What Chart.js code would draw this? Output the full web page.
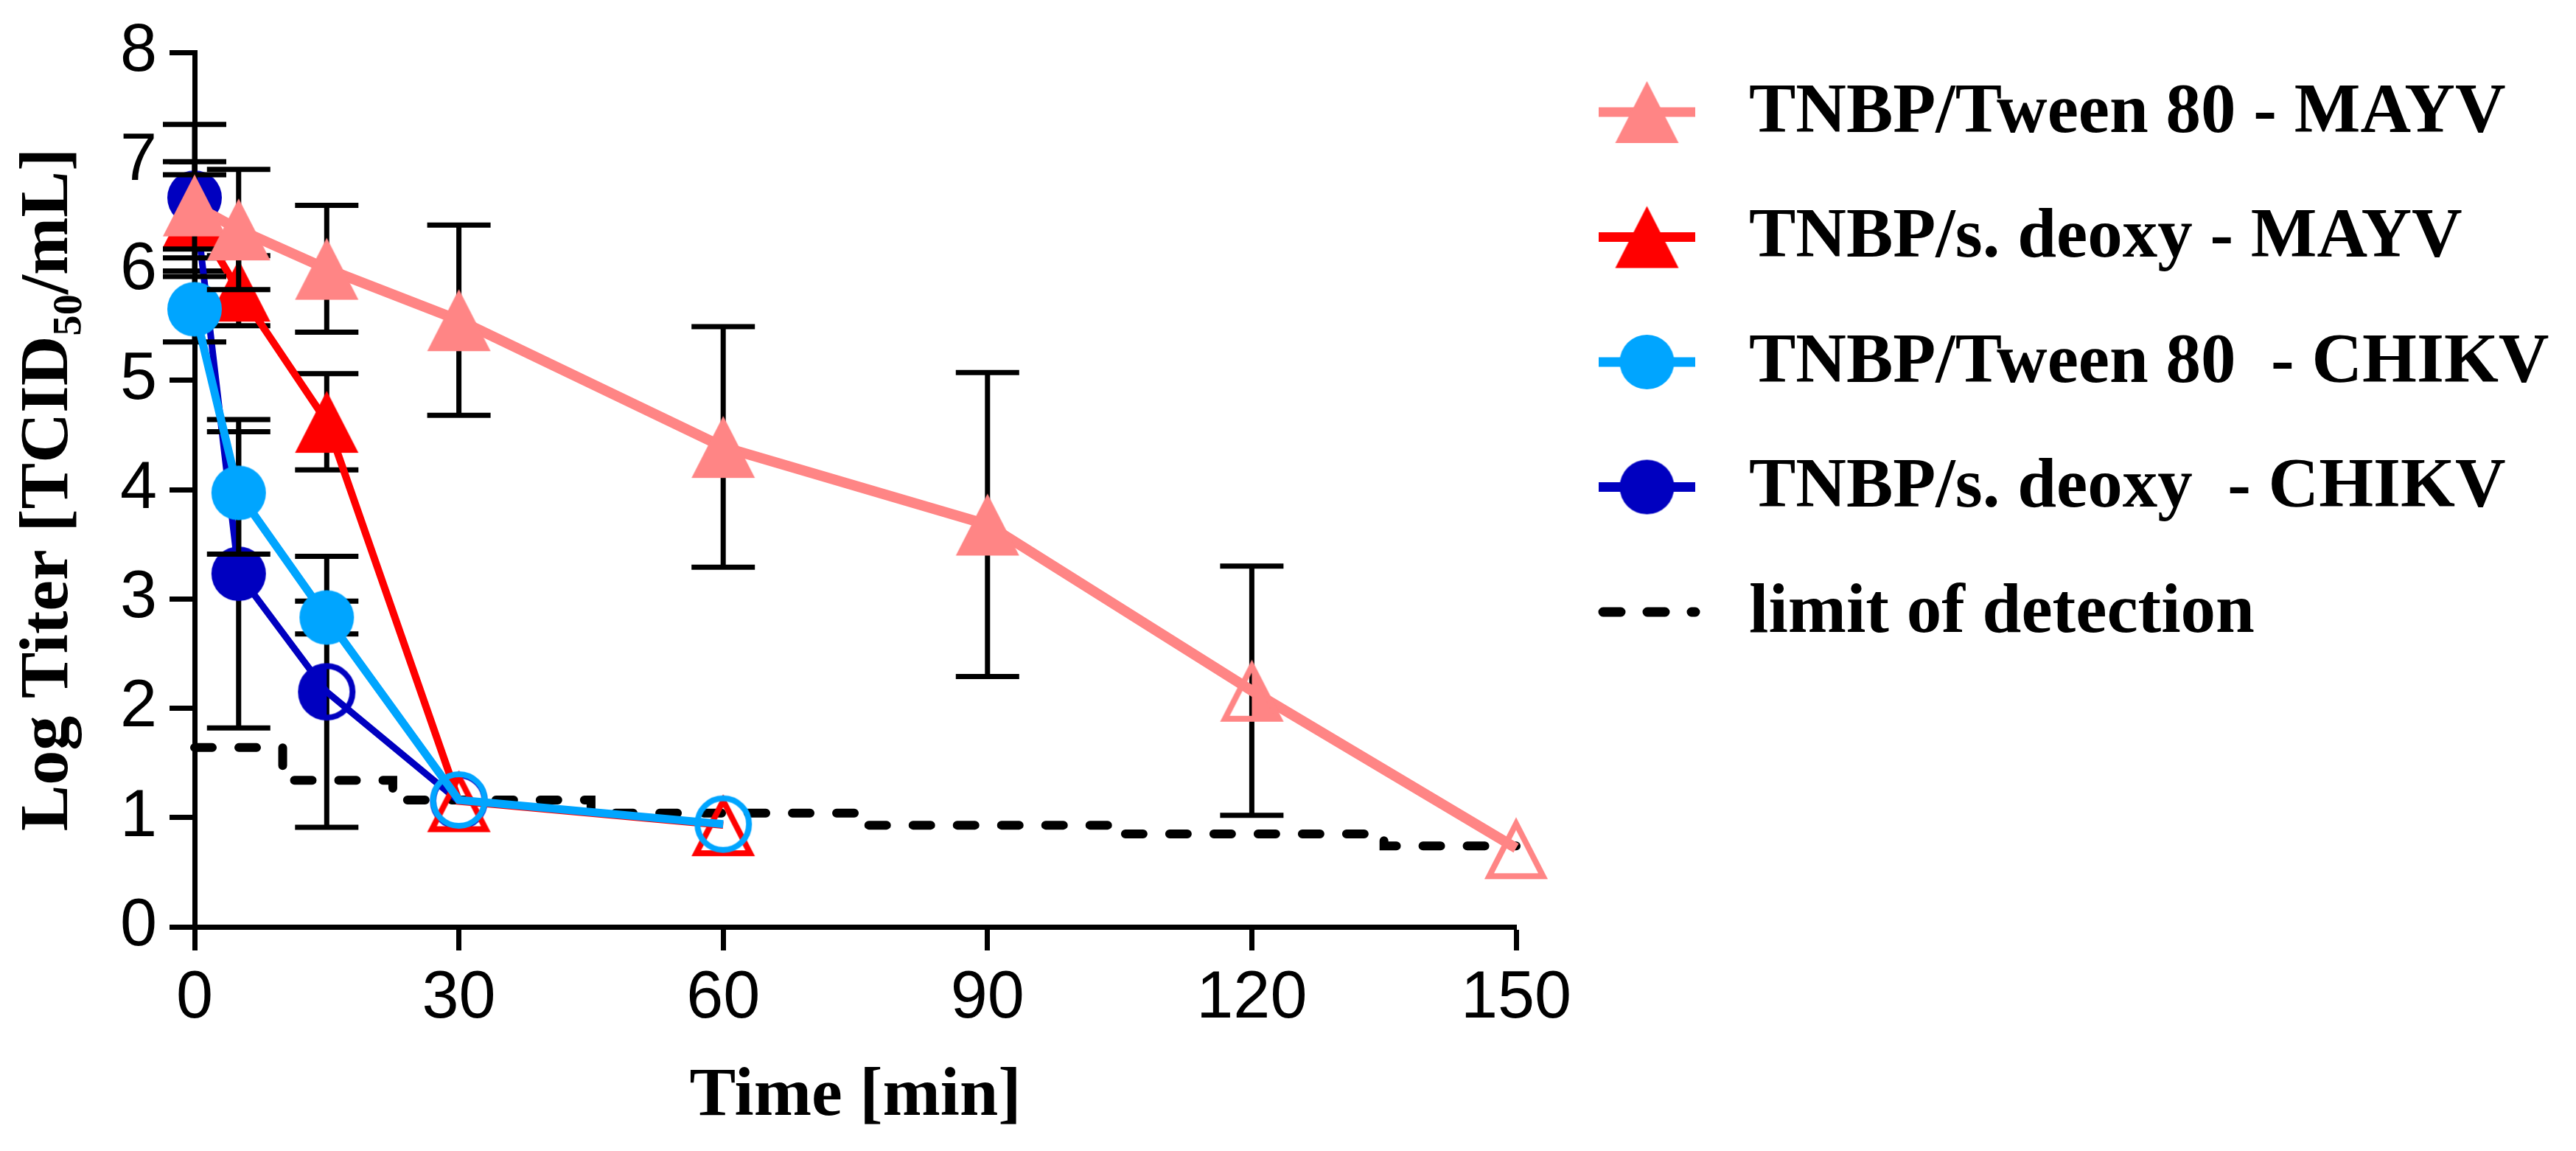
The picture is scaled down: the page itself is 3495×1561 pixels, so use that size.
<!DOCTYPE html>
<html>
<head>
<meta charset="utf-8">
<title>Log titer over time</title>
<script src="https://cdn.jsdelivr.net/npm/chart.js@4.4.1/dist/chart.umd.min.js"></script>
<style>
  html, body { margin: 0; padding: 0; background: #fff; }
  #wrap { width: 3495px; height: 1561px; position: relative; }
</style>
</head>
<body>
<div id="wrap"><canvas id="chart"></canvas></div>
<script>
// time points [min] and axis ticks
const TIMES   = [0, 5, 15, 30, 60, 90, 120, 150];
const X_TICKS = [0, 30, 60, 90, 120, 150];
const Y_TICKS = [0, 1, 2, 3, 4, 5, 6, 7, 8];

const LABELS = [
  "TNBP/Tween 80 - MAYV",
  "TNBP/s. deoxy - MAYV",
  "TNBP/Tween 80  - CHIKV",
  "TNBP/s. deoxy  - CHIKV",
  "limit of detection"
];

// log titer means and SD
const mayvTween     = [6.60, 6.38, 6.02, 5.55, 4.39, 3.68, 2.16, 0.72];
const mayvTweenSD   = [0.40, 0.55, 0.58, 0.87, 1.10, 1.39, 1.14, 0];
const mayvDeoxy     = [6.50, 5.82, 4.62, 1.15, 0.93];
const mayvDeoxySD   = [0.38, 0.32, 0.44, 0, 0];
const chikvTween    = [5.65, 3.97, 2.83, 1.16, 0.94];
const chikvTweenSD  = [0.30, 0.56, 0.15, 0, 0];
const chikvDeoxy    = [6.67, 3.23, 2.15, 1.15];
const chikvDeoxySD  = [0.67, 1.41, 1.24, 0];
const detectLimit   = [1.64, 1.64, 1.34, 1.16, 1.04, 0.93, 0.85, 0.74];

// symbol fill per point: f = filled, h = half, o = open
const mayvTweenSym  = ["f", "f", "f", "f", "f", "f", "h", "o"];
const mayvDeoxySym  = ["f", "f", "f", "o", "o"];
const chikvTweenSym = ["f", "f", "f", "o", "o"];
const chikvDeoxySym = ["f", "f", "h", "o"];

const SALMON = "#ff8585", RED = "#ff0000", SKY = "#00a5ff", NAVY = "#0000c0";

const markerCache = {};
function triMarker(color, kind) {
  const c = document.createElement("canvas");
  c.width = 104; c.height = 104;
  const g = c.getContext("2d");
  const cx = 52, cy = 52, hw = 43, hh = 42;
  const path = (ia, ib, ih) => {
    g.beginPath();
    g.moveTo(cx, cy - hh + ia);
    g.lineTo(cx + hw - ih, cy + hh - ib);
    g.lineTo(cx - hw + ih, cy + hh - ib);
    g.closePath();
  };
  g.fillStyle = color; g.strokeStyle = color;
  if (kind === "f") { path(0, 0, 0); g.fill(); return c; }
  if (kind === "h") {
    g.save(); g.beginPath(); g.rect(cx, 0, 60, 104); g.clip();
    path(0, 0, 0); g.fill(); g.restore();
  }
  g.lineWidth = 8; g.lineJoin = "miter"; g.miterLimit = 10;
  path(8.8, 4, 6.5); g.stroke();
  return c;
}
function dotMarker(color, kind) {
  const c = document.createElement("canvas");
  c.width = 92; c.height = 92;
  const g = c.getContext("2d");
  const cx = 46, cy = 46;
  g.fillStyle = color; g.strokeStyle = color;
  if (kind === "f") { g.beginPath(); g.arc(cx, cy, 37, 0, Math.PI * 2); g.fill(); return c; }
  if (kind === "h") {
    g.beginPath(); g.arc(cx, cy, 38, Math.PI / 2, Math.PI * 1.5); g.closePath(); g.fill();
  }
  g.lineWidth = 8; g.beginPath(); g.arc(cx, cy, 35, 0, Math.PI * 2); g.stroke();
  return c;
}
function marker(shape, color, kind) {
  const key = shape + color + kind;
  if (!markerCache[key]) markerCache[key] = shape === "tri" ? triMarker(color, kind) : dotMarker(color, kind);
  return markerCache[key];
}

function series(label, values, sd, syms, color, width, shape, order) {
  return {
    label,
    data: values.map((v, i) => ({ x: TIMES[i], y: v })),
    sd,
    shape,
    order,
    borderColor: color,
    backgroundColor: color,
    borderWidth: width,
    tension: 0,
    pointStyle: syms.map(k => marker(shape, color, k)),
    pointRadius: 40,
    clip: false
  };
}

// lower order is drawn on top
const datasets = [
  series(LABELS[0], mayvTween,  mayvTweenSD,  mayvTweenSym,  SALMON, 14, "tri", 0),
  series(LABELS[1], mayvDeoxy,  mayvDeoxySD,  mayvDeoxySym,  RED,    10, "tri", 2),
  series(LABELS[2], chikvTween, chikvTweenSD, chikvTweenSym, SKY,    11, "dot", 1),
  series(LABELS[3], chikvDeoxy, chikvDeoxySD, chikvDeoxySym, NAVY,    9, "dot", 3),
  {
    label: LABELS[4],
    order: 4,
    data: detectLimit.map((v, i) => ({ x: TIMES[i], y: v })),
    borderColor: "#000",
    borderWidth: 12,
    borderDash: [24, 36],
    borderCapStyle: "round",
    stepped: "middle",
    pointRadius: 0,
    clip: false
  }
];

// SD whiskers, drawn just before each dataset
const errorBars = {
  id: "errorBars",
  beforeDatasetDraw(chart, args) {
    const ds = chart.data.datasets[args.index];
    if (!ds.sd) return;
    const xs = chart.scales.x, ys = chart.scales.y, ctx = chart.ctx;
    ctx.save();
    ctx.strokeStyle = "#000";
    ctx.lineWidth = 7;
    ds.data.forEach((p, i) => {
      const e = ds.sd[i];
      if (!e) return;
      const px = xs.getPixelForValue(p.x);
      const top = ys.getPixelForValue(p.y + e);
      const bot = ys.getPixelForValue(p.y - e);
      ctx.beginPath();
      ctx.moveTo(px, top); ctx.lineTo(px, bot);
      ctx.moveTo(px - 43, top); ctx.lineTo(px + 43, top);
      ctx.moveTo(px - 43, bot); ctx.lineTo(px + 43, bot);
      ctx.stroke();
    });
    ctx.restore();
  }
};

// legend on the right, line + symbol like the original
const sideLegend = {
  id: "sideLegend",
  afterDraw(chart) {
    const ctx = chart.ctx, area = chart.chartArea;
    const x0 = area.right + 112, x1 = area.right + 243, xm = (x0 + x1) / 2;
    const tx = area.right + 316;
    ctx.save();
    chart.data.datasets.forEach((ds, i) => {
      const y = area.top + 81 + i * 169.5;
      ctx.beginPath();
      ctx.strokeStyle = ds.borderColor;
      if (ds.borderDash) {
        ctx.lineWidth = 13; ctx.lineCap = "round"; ctx.setLineDash(ds.borderDash);
        ctx.moveTo(x0 + 6, y); ctx.lineTo(x1, y);
      } else {
        ctx.lineWidth = 13; ctx.lineCap = "butt"; ctx.setLineDash([]);
        ctx.moveTo(x0, y); ctx.lineTo(x1, y);
      }
      ctx.stroke();
      ctx.setLineDash([]);
      if (ds.shape) {
        const m = marker(ds.shape, ds.borderColor, "f");
        ctx.drawImage(m, xm - m.width / 2, y - m.height / 2);
      }
      ctx.fillStyle = "#000";
      ctx.font = "bold 95px 'Liberation Serif', 'Times New Roman', serif";
      ctx.textAlign = "left";
      ctx.textBaseline = "middle";
      ctx.fillText(ds.label, tx, y + 2);
    });
    ctx.restore();
  }
};

const tickFont = { family: "'Liberation Sans Narrow', 'Arial Narrow', 'Liberation Sans', sans-serif", size: 90 };
const titleFont = { family: "'Liberation Serif', 'Times New Roman', serif", size: 94, weight: "bold" };

new Chart(document.getElementById("chart"), {
  type: "line",
  data: { datasets },
  plugins: [errorBars, sideLegend],
  options: {
    responsive: true,
    maintainAspectRatio: false,
    animation: false,
    events: [],
    layout: { padding: { left: 0, top: 57, right: 1438, bottom: 0 } },
    plugins: { legend: { display: false }, tooltip: { enabled: false } },
    scales: {
      x: {
        type: "linear",
        min: 0, max: 150,
        afterBuildTicks: s => { s.ticks = X_TICKS.map(v => ({ value: v })); },
        afterFit: s => { s.height = 304; },
        ticks: { font: tickFont, color: "#000", padding: 12, maxRotation: 0, autoSkip: false },
        grid: { drawOnChartArea: false, tickLength: 32, tickWidth: 7, tickColor: "#000" },
        border: { color: "#000", width: 7 },
        title: { display: true, text: "Time [min]", font: titleFont, color: "#000", padding: { top: 0, bottom: 17 } }
      },
      y: {
        min: 0, max: 8,
        afterBuildTicks: s => { s.ticks = Y_TICKS.map(v => ({ value: v })); },
        afterFit: s => { s.width = 264; },
        ticks: { font: tickFont, color: "#000", padding: 17, autoSkip: false },
        grid: { drawOnChartArea: false, tickLength: 34, tickWidth: 7, tickColor: "#000" },
        border: { color: "#000", width: 7 },
        title: { display: true, text: "Log Titer [TCID\u2085\u2080/mL]", font: titleFont, color: "#000", padding: { top: 10, bottom: 0 } }
      }
    }
  }
});
</script>
</body>
</html>
